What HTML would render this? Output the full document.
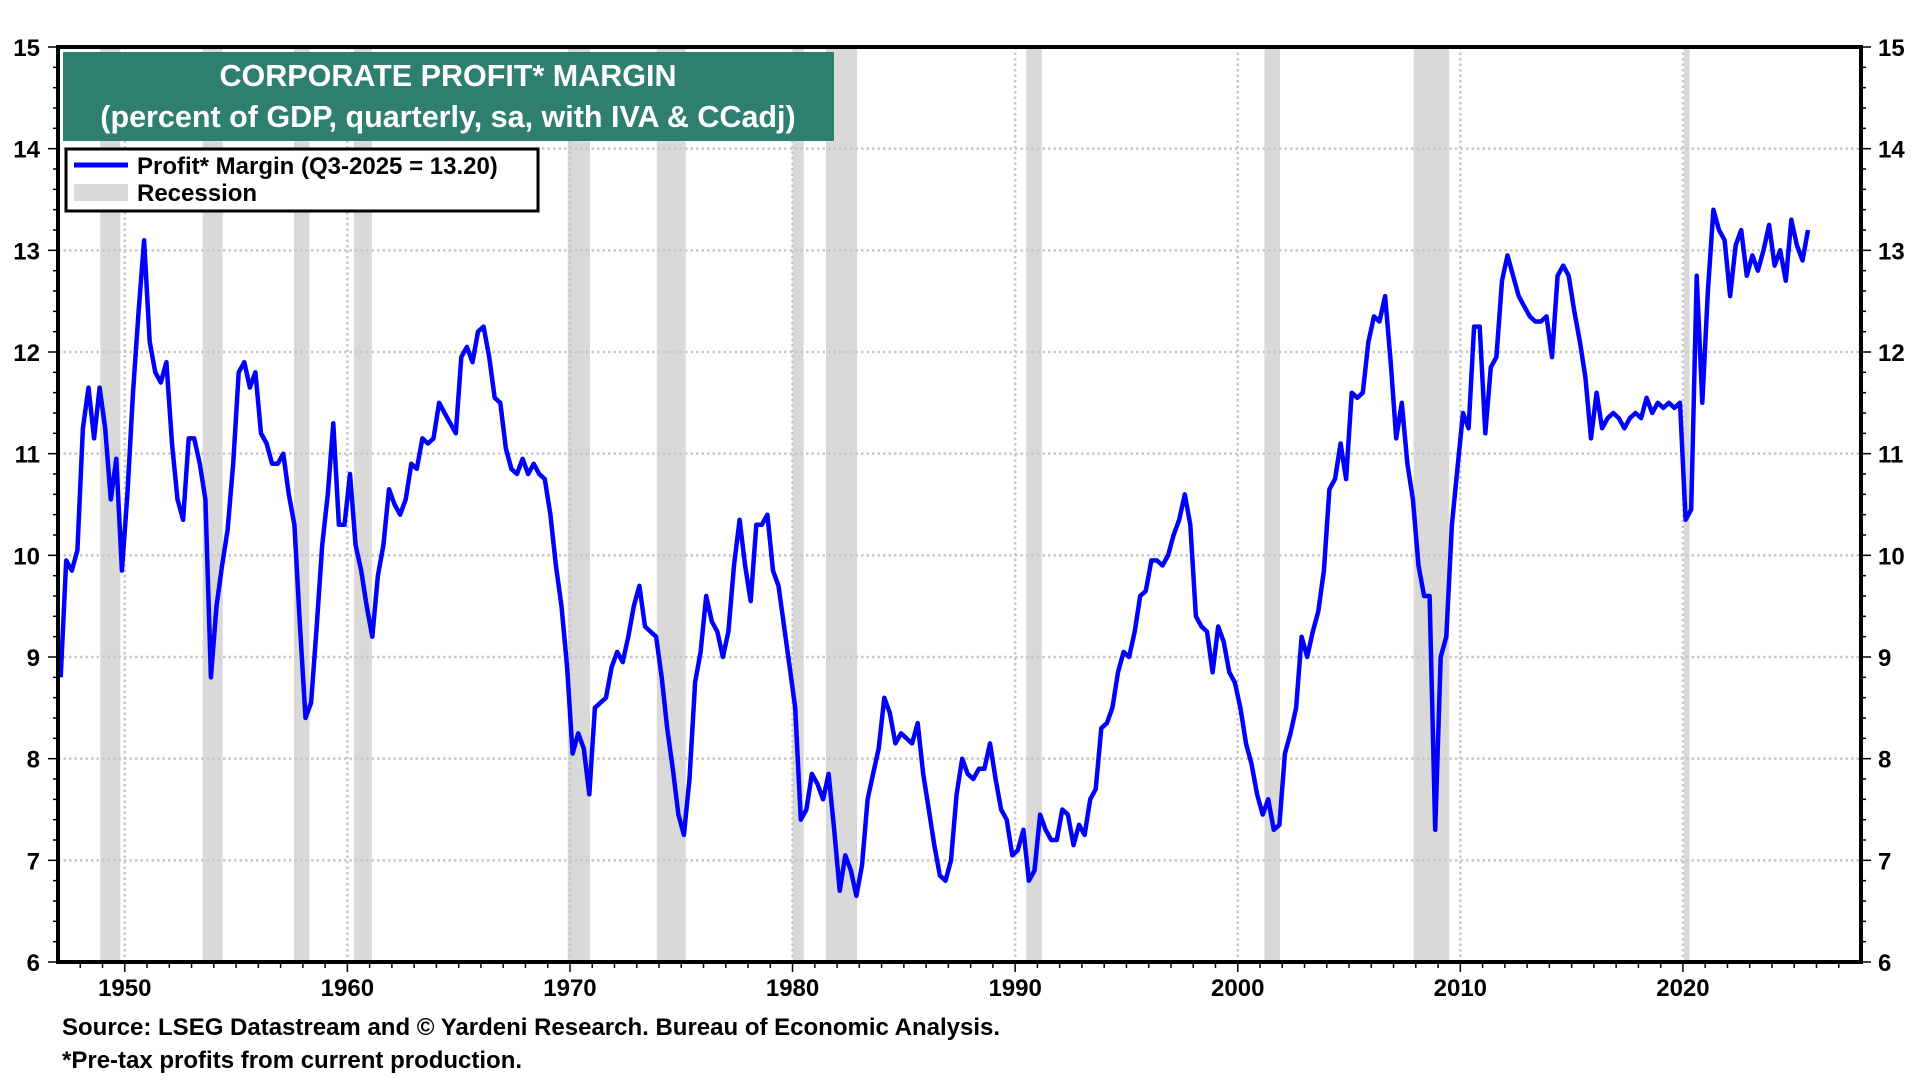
<!DOCTYPE html>
<html><head><meta charset="utf-8"><style>
html,body{margin:0;padding:0;background:#fff;width:1920px;height:1080px;overflow:hidden}
svg{display:block;font-family:"Liberation Sans",Arial,sans-serif;font-weight:bold}
</style></head><body>
<svg id="chart" width="1920" height="1080" viewBox="0 0 1920 1080" xmlns="http://www.w3.org/2000/svg">
<g id="bands"></g><g id="grid"></g><g id="series"></g><g id="axes"></g>
<g>
<rect x="63" y="52" width="771" height="89" fill="#2e7f70"/>
<text x="448" y="86" fill="#fff" font-size="30.5" text-anchor="middle">CORPORATE PROFIT* MARGIN</text>
<text x="448" y="127" fill="#fff" font-size="30.5" text-anchor="middle">(percent of GDP, quarterly, sa, with IVA &amp; CCadj)</text>
</g>
<g>
<rect x="66" y="149" width="472" height="62" fill="#fff" stroke="#000" stroke-width="3"/>
<line x1="74" y1="165" x2="128" y2="165" stroke="#0000ff" stroke-width="5"/>
<text x="137" y="174" font-size="24">Profit* Margin (Q3-2025 = 13.20)</text>
<rect x="74" y="184" width="54" height="17" fill="#d9d9d9"/>
<text x="137" y="201" font-size="24">Recession</text>
</g>
<text x="62" y="1035" font-size="24">Source: LSEG Datastream and © Yardeni Research. Bureau of Economic Analysis.</text>
<text x="62" y="1068" font-size="24">*Pre-tax profits from current production.</text>
</svg>
<script>
const startYear = 1947;
const values = [8.8,9.95,9.85,10.05,11.25,11.65,11.15,11.65,11.25,10.55,10.95,9.85,10.6,11.6,12.4,13.1,12.1,11.8,11.7,11.9,11.1,10.55,10.35,11.15,11.15,10.9,10.55,8.8,9.5,9.9,10.25,10.9,11.8,11.9,11.65,11.8,11.2,11.1,10.9,10.9,11.0,10.6,10.3,9.3,8.4,8.55,9.3,10.1,10.6,11.3,10.3,10.3,10.8,10.1,9.85,9.5,9.2,9.8,10.1,10.65,10.5,10.4,10.55,10.9,10.85,11.15,11.1,11.15,11.5,11.4,11.3,11.2,11.95,12.05,11.9,12.2,12.25,11.95,11.55,11.5,11.05,10.85,10.8,10.95,10.8,10.9,10.8,10.75,10.4,9.9,9.5,8.9,8.05,8.25,8.1,7.65,8.5,8.55,8.6,8.9,9.05,8.95,9.2,9.5,9.7,9.3,9.25,9.2,8.8,8.3,7.9,7.45,7.25,7.8,8.75,9.05,9.6,9.35,9.25,9.0,9.25,9.9,10.35,9.9,9.55,10.3,10.3,10.4,9.85,9.7,9.3,8.9,8.5,7.4,7.5,7.85,7.75,7.6,7.85,7.3,6.7,7.05,6.9,6.65,6.95,7.6,7.85,8.1,8.6,8.45,8.15,8.25,8.2,8.15,8.35,7.85,7.5,7.15,6.85,6.8,7.0,7.65,8.0,7.85,7.8,7.9,7.9,8.15,7.8,7.5,7.4,7.05,7.1,7.3,6.8,6.9,7.45,7.3,7.2,7.2,7.5,7.45,7.15,7.35,7.25,7.6,7.7,8.3,8.35,8.5,8.85,9.05,9.0,9.25,9.6,9.65,9.95,9.95,9.9,10.0,10.2,10.35,10.6,10.3,9.4,9.3,9.25,8.85,9.3,9.15,8.85,8.75,8.5,8.15,7.95,7.65,7.45,7.6,7.3,7.35,8.05,8.25,8.5,9.2,9.0,9.25,9.45,9.85,10.65,10.75,11.1,10.75,11.6,11.55,11.6,12.1,12.35,12.3,12.55,11.9,11.15,11.5,10.9,10.55,9.9,9.6,9.6,7.3,9.0,9.2,10.3,10.85,11.4,11.25,12.25,12.25,11.2,11.85,11.95,12.7,12.95,12.75,12.55,12.45,12.35,12.3,12.3,12.35,11.95,12.75,12.85,12.75,12.4,12.1,11.75,11.15,11.6,11.25,11.35,11.4,11.35,11.25,11.35,11.4,11.35,11.55,11.4,11.5,11.45,11.5,11.45,11.5,10.35,10.45,12.75,11.5,12.6,13.4,13.2,13.1,12.55,13.05,13.2,12.75,12.95,12.8,13.0,13.25,12.85,13.0,12.7,13.3,13.05,12.9,13.2];
const recessionStarts = [1948.9,1953.5,1957.6,1960.3,1969.9,1973.9,1980.0,1981.5,1990.5,2001.2,2007.9,2020.05];
const recessionEnds = [1949.8,1954.4,1958.3,1961.1,1970.9,1975.2,1980.5,1982.9,1991.2,2001.9,2009.5,2020.3];
const yTicks = [6,7,8,9,10,11,12,13,14,15];
const xTicks = [1950,1960,1970,1980,1990,2000,2010,2020];

const L=58,R=1861,T=47,B=962,X0=1947,X1=2028,Y0=6,Y1=15;
const xs=v=>L+(v-X0)/(X1-X0)*(R-L);
const ys=v=>B-(v-Y0)/(Y1-Y0)*(B-T);
const NS="http://www.w3.org/2000/svg";
function mk(tag,attrs,parent){const e=document.createElementNS(NS,tag);for(const k in attrs)e.setAttribute(k,attrs[k]);parent.appendChild(e);return e;}
const gb=document.getElementById('bands'),gg=document.getElementById('grid'),gs=document.getElementById('series'),ga=document.getElementById('axes');

recessionStarts.forEach((s,i)=>{
  const r=mk('rect',{x:xs(s),y:T,width:Math.max(3,xs(recessionEnds[i])-xs(s)),height:B-T,fill:'#d9d9d9'},gb);
  
  
});
yTicks.forEach(v=>{
  if(v>Y0&&v<Y1){const l=mk('line',{x1:L,x2:R,y1:ys(v),y2:ys(v),stroke:'#c8c8c8','stroke-width':2.5,'stroke-dasharray':'2.5 3'},gg);
  
  }
  const t1=mk('text',{x:40,y:ys(v)+9,'font-size':24,'text-anchor':'end'},ga);t1.textContent=v;
  
  
  const t2=mk('text',{x:1878,y:ys(v)+9,'font-size':24},ga);t2.textContent=v;
  
  
});
for(let v=Y0;v<=Y1+1e-9;v+=0.2){
  const big=Math.abs(v-Math.round(v))<1e-6;
  mk('line',{x1:L-(big?10:5),x2:L,y1:ys(v),y2:ys(v),stroke:'#000','stroke-width':1.5},ga);
  mk('line',{x1:R,x2:R+(big?10:5),y1:ys(v),y2:ys(v),stroke:'#000','stroke-width':1.5},ga);
}
xTicks.forEach(v=>{
  const l=mk('line',{x1:xs(v),x2:xs(v),y1:T,y2:B,stroke:'#c8c8c8','stroke-width':2.5,'stroke-dasharray':'2.5 3'},gg);
  
  
  const t=mk('text',{x:xs(v),y:996,'font-size':24,'text-anchor':'middle'},ga);t.textContent=v;
  
  
});
for(let y=1948;y<=2027;y++){
  const big=y%10===0;
  mk('line',{x1:xs(y),x2:xs(y),y1:B,y2:B+(big?10:6),stroke:'#000','stroke-width':1.5},ga);
}
const frame=mk('rect',{x:L,y:T,width:R-L,height:B-T,fill:'none',stroke:'#000','stroke-width':4},ga);



const pts=values.map((v,i)=>xs(startYear+0.12+i*0.25).toFixed(1)+','+ys(v).toFixed(1)).join(' ');
const pl=mk('polyline',{points:pts,fill:'none',stroke:'#0000ff','stroke-width':4.5,'stroke-linejoin':'round'},gs);


</script>
</body></html>
